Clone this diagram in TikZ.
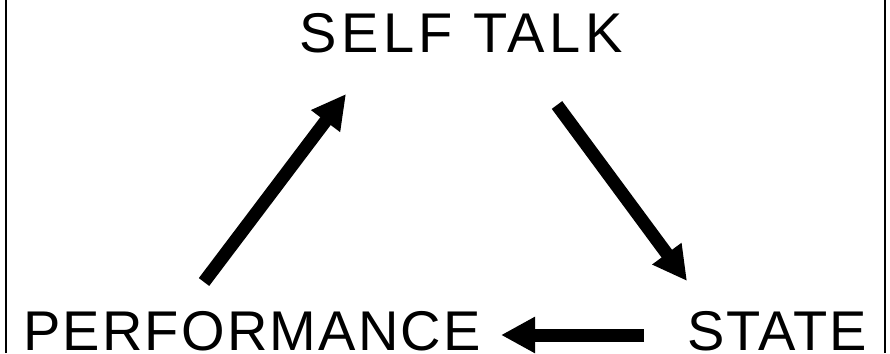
\documentclass[tikz,border=0pt]{standalone}
\usepackage{fontspec}
\setmainfont{Liberation Sans}
\usetikzlibrary{arrows.meta}

\tikzset{
  cyclelabel/.style={anchor=base, inner sep=0pt, font=\fontsize{56}{60}\selectfont},
  cyclearrow/.style={line width=13pt, -{Triangle[length=34pt,width=34pt]}}
}

\begin{document}
\begin{tikzpicture}[x=1pt, y=1pt]

        % Rahmen
        \useasboundingbox (0,0) rectangle (890,353);
        \draw[line width=2pt] (6,0) -- (6,353);
        \draw[line width=2pt] (885,0) -- (885,353);

        % Beschriftungen
        \node[cyclelabel] (selftalk) at (461,300) {\addfontfeature{LetterSpace=8}SELF TALK};
        \node[cyclelabel] (performance) at (252,3) {\addfontfeature{LetterSpace=4}PERFORMANCE};
        \node[cyclelabel] (state) at (777,3) {\addfontfeature{LetterSpace=3}STATE};

        % Endpunkte der Pfeile
        \coordinate (perf-out) at (204,71);
        \coordinate (self-in) at (346,259);
        \coordinate (self-out) at (557,248);
        \coordinate (state-in) at (687,72);
        \coordinate (state-out) at (644,18);
        \coordinate (perf-in) at (501,18);

        % Pfeile
        \draw[cyclearrow] (perf-out) -- (self-in);
        \draw[cyclearrow] (self-out) -- (state-in);
        \draw[cyclearrow] (state-out) -- (perf-in);

    \end{tikzpicture}
\end{document}
